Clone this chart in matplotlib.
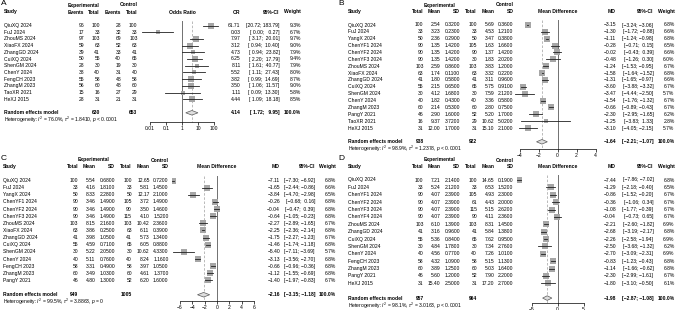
import matplotlib.pyplot as plt
import numpy as np

plt.rcParams['font.family'] = ['Liberation Sans', 'DejaVu Sans']
plt.rcParams['mathtext.fontset'] = 'custom'
plt.rcParams['mathtext.rm'] = 'Liberation Sans'
plt.rcParams['mathtext.it'] = 'Liberation Sans:italic'
plt.rcParams['mathtext.bf'] = 'Liberation Sans:bold'

FS = 3.65
W, H = 677, 310

# ---- A: odds ratio
studies_a = ["QiuXQ 2024", "FuJ 2024", "ZhouMS 2024", "XiaoFX 2024", "ZhangGD 2024",
             "CuiXQ 2024", "ShenGM 2024", "ChenY 2024", "FengCH 2023", "ZhangM 2023",
             "TaoXR 2021", "HeXJ 2015"]
ev_e_a = [96, 17, 97, 59, 39, 50, 28, 38, 55, 56, 15, 28]
n_e_a = [100, 33, 103, 63, 41, 55, 30, 40, 58, 60, 16, 31]
ev_c_a = [28, 32, 69, 52, 33, 40, 19, 31, 48, 48, 27, 21]
n_c_a = [100, 33, 103, 63, 41, 65, 30, 40, 58, 60, 29, 31]
or_a = [61.71, 0.03, 7.97, 3.12, 4.73, 6.25, 8.11, 5.52, 3.82, 3.50, 1.11, 4.44]
lo_a = [20.72, 0.0033, 3.17, 0.94, 0.94, 2.20, 1.61, 1.11, 0.99, 1.06, 0.09, 1.09]
hi_a = [183.79, 0.27, 20.01, 10.40, 23.82, 17.79, 40.77, 27.43, 14.69, 11.57, 13.30, 18.18]
w_a = [9.3, 6.7, 9.7, 9.0, 7.9, 9.4, 7.9, 8.0, 8.7, 9.0, 5.8, 8.5]
pool_a = (4.14, 1.72, 9.95)
tot_a = (630, 653)
het_a = ("76.0%", "1.8410", "< 0.0001")

# ---- B: mean difference
studies_b = ["QiuXQ 2024", "FuJ 2024", "YangX 2024", "ChenYF1 2024", "ChenYF2 2024",
             "ChenYF3 2024", "ZhouMS 2024", "XiaoFX 2024", "ZhangGD 2024", "CuiXQ 2024",
             "ShenGM 2024", "ChenY 2024", "ZhangM 2023", "PangY 2021", "TaoXR 2021", "HeXJ 2015"]
n_e_b = [100, 33, 50, 90, 90, 90, 103, 63, 41, 55, 30, 40, 60, 46, 16, 31]
m_e_b = [2.54, 3.23, 2.36, 1.35, 1.35, 1.35, 2.59, 1.74, 1.80, 2.15, 4.12, 1.82, 2.14, 2.90, 9.37, 12.00]
sd_e_b = [0.32, 0.23, 0.29, 1.42, 1.42, 1.42, 0.86, 0.11, 0.58, 0.65, 1.68, 0.43, 0.53, 1.60, 3.72, 1.70]
n_c_b = [100, 33, 50, 105, 90, 30, 103, 63, 41, 65, 30, 40, 60, 52, 29, 31]
m_c_b = [5.69, 4.53, 3.47, 1.63, 1.37, 1.83, 3.83, 3.32, 3.11, 5.75, 7.59, 3.36, 2.80, 5.20, 10.62, 15.10]
sd_c_b = [0.36, 1.21, 0.38, 1.66, 1.42, 2.02, 1.20, 0.22, 0.96, 0.91, 2.12, 0.58, 0.75, 1.70, 5.02, 2.10]
md_b = [-3.15, -1.30, -1.11, -0.28, -0.02, -0.48, -1.24, -1.58, -1.31, -3.60, -3.47, -1.54, -0.66, -2.30, -1.25, -3.10]
lo_b = [-3.24, -1.72, -1.24, -0.71, -0.43, -1.26, -1.53, -1.64, -1.65, -3.88, -4.44, -1.76, -0.89, -2.95, -3.83, -4.05]
hi_b = [-3.06, -0.88, -0.98, 0.15, 0.39, 0.30, -0.95, -1.52, -0.97, -3.32, -2.50, -1.32, -0.43, -1.65, 1.33, -2.15]
w_b = [6.8, 6.6, 6.8, 6.5, 6.6, 6.0, 6.7, 6.8, 6.6, 6.7, 5.7, 6.7, 6.7, 6.2, 2.8, 5.7]
pool_b = (-1.64, -2.21, -1.07)
tot_b = (938, 922)
het_b = ("98.9%", "1.2378", "< 0.0001")

# ---- C: mean difference
studies_c = ["QiuXQ 2024", "FuJ 2024", "YangX 2024", "ChenYF1 2024", "ChenYF2 2024",
             "ChenYF3 2024", "ZhouMS 2024", "XiaoFX 2024", "ZhangGD 2024", "CuiXQ 2024",
             "ShenGM 2024", "ChenY 2024", "FengCH 2023", "ZhangM 2023", "PangY 2021"]
n_e_c = [100, 33, 50, 90, 90, 90, 103, 63, 41, 55, 30, 40, 58, 60, 46]
m_e_c = [5.54, 4.16, 8.33, 3.46, 3.46, 3.46, 8.15, 3.86, 3.98, 4.59, 5.22, 5.11, 3.31, 3.49, 4.80]
sd_e_c = [0.68, 1.81, 2.28, 1.49, 1.49, 1.49, 2.16, 0.25, 1.05, 0.71, 2.05, 0.76, 0.49, 1.03, 1.30]
n_c_c = [100, 33, 50, 105, 90, 115, 103, 63, 41, 65, 30, 40, 58, 60, 52]
m_c_c = [12.65, 5.81, 12.17, 3.72, 3.50, 4.10, 10.42, 6.11, 5.73, 6.05, 10.62, 8.24, 3.97, 4.61, 6.20]
sd_c_c = [0.72, 1.45, 2.10, 1.49, 1.46, 1.52, 2.36, 0.39, 1.34, 0.88, 4.33, 1.16, 1.05, 1.37, 1.60]
md_c = [-7.11, -1.65, -3.84, -0.26, -0.04, -0.64, -2.27, -2.25, -1.75, -1.46, -5.40, -3.13, -0.66, -1.12, -1.40]
lo_c = [-7.30, -2.44, -4.70, -0.68, -0.47, -1.05, -2.89, -2.36, -2.27, -1.74, -7.11, -3.56, -0.96, -1.55, -1.97]
hi_c = [-6.92, -0.86, -2.98, 0.16, 0.39, -0.23, -1.65, -2.14, -1.23, -1.18, -3.69, -2.70, -0.36, -0.69, -0.83]
w_c = [6.8, 6.6, 6.5, 6.8, 6.8, 6.8, 6.7, 6.8, 6.7, 6.8, 5.7, 6.8, 6.8, 6.8, 6.7]
pool_c = (-2.16, -3.15, -1.18)
tot_c = (949, 1005)
het_c = ("99.5%", "3.8863", "= 0")

# ---- D: mean difference
studies_d = ["QiuXQ 2024", "FuJ 2024", "ChenYF1 2024", "ChenYF2 2024", "ChenYF3 2024",
             "ChenYF4 2024", "ZhouMS 2024", "ZhangGD 2024", "CuiXQ 2024", "ShenGM 2024",
             "ChenY 2024", "FengCH 2023", "ZhangM 2023", "PangY 2021", "HeXJ 2015"]
n_e_d = [100, 33, 90, 90, 90, 90, 103, 41, 55, 30, 40, 58, 60, 46, 31]
m_e_d = [7.21, 5.24, 4.07, 4.07, 4.07, 4.07, 6.10, 3.16, 5.36, 4.84, 4.56, 4.32, 3.89, 5.60, 15.40]
sd_e_d = [2.14, 2.12, 2.39, 2.39, 2.39, 2.39, 1.39, 0.96, 0.84, 1.78, 0.77, 1.09, 1.25, 1.20, 2.50]
n_c_d = [100, 33, 105, 61, 115, 90, 103, 41, 65, 30, 40, 58, 60, 52, 31]
m_c_d = [14.65, 6.53, 4.93, 4.43, 5.15, 4.11, 8.31, 5.84, 7.62, 7.34, 7.26, 5.15, 5.03, 7.90, 17.20]
sd_c_d = [0.19, 1.52, 2.30, 2.00, 2.62, 2.36, 1.45, 1.38, 0.95, 2.76, 1.01, 1.13, 1.64, 2.20, 2.70]
md_d = [-7.44, -1.29, -0.86, -0.36, -1.08, -0.04, -2.21, -2.68, -2.26, -2.50, -2.70, -0.83, -1.14, -2.30, -1.80]
lo_d = [-7.86, -2.18, -1.52, -1.06, -1.77, -0.73, -2.60, -3.19, -2.58, -3.68, -3.09, -1.23, -1.66, -2.99, -3.10]
hi_d = [-7.02, -0.40, -0.20, 0.34, -0.39, 0.65, -1.82, -2.17, -1.94, -1.32, -2.31, -0.43, -0.62, -1.61, -0.50]
w_d = [6.8, 6.5, 6.7, 6.7, 6.7, 6.7, 6.9, 6.8, 6.9, 6.2, 6.9, 6.8, 6.8, 6.7, 6.1]
pool_d = (-1.98, -2.87, -1.08)
tot_d = (957, 964)
het_d = ("98.1%", "3.0163", "< 0.0001")


fig = plt.figure(figsize=(W / 100, H / 100), dpi=100)
tax = fig.add_axes([0, 0, 1, 1])
tax.set_xlim(0, W)
tax.set_ylim(H, 0)
tax.axis('off')


def put(x, y, s, ha='right', bold=False, size=FS):
    tax.text(x, y, s, ha=ha, va='center', fontsize=size,
             fontweight='bold' if bold else 'normal')


def num(v, d=2):
    return f'{v:.{d}f}'.replace('-', '\u2212')


def ci_strings(lo, hi):
    # pad like R's format(): same number of characters per column
    ls = [num(v) for v in lo]
    hs = [num(v) for v in hi]
    nl, nh = max(map(len, ls)), max(map(len, hs))
    return ['[' + l.rjust(nl) + '; ' + h.rjust(nh) + ']' for l, h in zip(ls, hs)]


def het_text(h):
    return r'Heterogeneity: $I^2$ = ' + h[0] + r', $\tau^2$ = ' + h[1] + r', $p$ ' + h[2]


def forest(zero, ppu, half, log=False):
    # zero = pixel of the null value, ppu = pixels per unit (per decade for log)
    p0, p1 = zero - ppu * half, zero + ppu * half
    ax = fig.add_axes([p0 / W, 0, (p1 - p0) / W, 1])
    ax.set_ylim(H, 0)
    if log:
        ax.set_xscale('log')
        ax.set_xlim(10 ** -half, 10 ** half)
    else:
        ax.set_xlim(-half, half)
    ax.patch.set_visible(False)
    for s in ('top', 'left', 'right'):
        ax.spines[s].set_visible(False)
    ax.tick_params(left=False, labelleft=False)
    return ax


def draw_forest(ax, ys, est, lo, hi, w, pool, y_pool, y_top, y_axis, null, ticks, labels, smax=5.5):
    ax.plot([null, null], [y_top, y_axis], color='#707070', lw=0.7)
    ax.plot([pool[0], pool[0]], [y_top, y_axis], color='#b0b0b0', lw=0.6, ls=(0, (3, 2)))
    w = np.asarray(w, dtype=float)
    for y, e, l, h, wi in zip(ys, est, lo, hi, w):
        side = smax * np.sqrt(wi / w.max())
        ax.plot(e, y, marker='s', ms=side * 0.72, mfc='#a6a6a6', mec='#a6a6a6', mew=0, zorder=2)
        ax.plot([l, h], [y, y], color='#202020', lw=0.6, zorder=3)
    e, l, h = pool
    ax.fill([l, e, h, e], [y_pool, y_pool - 2.3, y_pool, y_pool + 2.3],
            fc='#dedede', ec='#5a5a5a', lw=0.5, zorder=3)
    sp = ax.spines['bottom']
    sp.set_position(('data', y_axis))
    sp.set_bounds(ticks[0], ticks[-1])
    sp.set_linewidth(0.5)
    ax.set_xticks(ticks)
    ax.set_xticklabels(labels)
    ax.minorticks_off()
    ax.tick_params(axis='x', length=2, width=0.5, pad=1.2, labelsize=FS)


# ================= panel A =================
ca = dict(study=4, ev_e=84, n_e=100, ev_c=121, n_c=137.5, est=240.5, ci=279.5, wt=301)
ys_a = 25.5 + 6.7 * np.arange(len(studies_a))
yp = 112.8
cis_a = ci_strings(lo_a + [pool_a[1]], hi_a + [pool_a[2]])
put(1, 3.5, 'A', ha='left', size=6)
put(ca['n_e'], 5, 'Experimental', bold=True)
put(ca['n_c'], 5, 'Control', bold=True)
put(ca['study'], 12, 'Study', ha='left', bold=True)
for k, s in [('ev_e', 'Events'), ('n_e', 'Total'), ('ev_c', 'Events'), ('n_c', 'Total'),
             ('est', 'OR'), ('ci', '95%-CI'), ('wt', 'Weight')]:
    put(ca[k], 12, s, bold=True)
put(182, 12, 'Odds Ratio', ha='center', bold=True)
for i, y in enumerate(ys_a):
    put(ca['study'], y, studies_a[i], ha='left')
    put(ca['ev_e'], y, str(ev_e_a[i]))
    put(ca['n_e'], y, str(n_e_a[i]))
    put(ca['ev_c'], y, str(ev_c_a[i]))
    put(ca['n_c'], y, str(n_c_a[i]))
    put(ca['est'], y, num(or_a[i]))
    put(ca['ci'], y, cis_a[i])
    put(ca['wt'], y, f'{w_a[i]:.1f}%')
put(ca['study'], yp, 'Random effects model', ha='left', bold=True)
put(ca['n_e'], yp, str(tot_a[0]), bold=True)
put(ca['n_c'], yp, str(tot_a[1]), bold=True)
put(ca['est'], yp, num(pool_a[0]), bold=True)
put(ca['ci'], yp, cis_a[-1], bold=True)
put(ca['wt'], yp, '100.0%', bold=True)
put(ca['study'], 119.5, het_text(het_a), ha='left')
axa = forest(182, 16, 2.57, log=True)
draw_forest(axa, ys_a, or_a, lo_a, hi_a, w_a, pool_a, yp, 21, 122, 1,
            [0.01, 0.1, 1, 10, 100], ['0.01', '0.1', '1', '10', '100'])


# ================= continuous panels =================
def md_panel(letter, lx, ly, c, studies, n_e, m_e, sd_e, n_c, m_c, sd_c, md, lo, hi, w,
             pool, tot, het, y0, dy, y_axis, zero, ppu, half, ticks):
    put(lx, ly, letter, ha='left', size=6)
    h1, h2 = ly + 1.5, ly + 8
    put(c['sd_e'] - 5, h1, 'Experimental', bold=True)
    put(c['sd_c'], h1, 'Control', bold=True)
    put(c['study'], h2, 'Study', ha='left', bold=True)
    for k, s in [('n_e', 'Total'), ('m_e', 'Mean'), ('sd_e', 'SD'), ('n_c', 'Total'),
                 ('m_c', 'Mean'), ('sd_c', 'SD'), ('est', 'MD'), ('ci', '95%-CI'), ('wt', 'Weight')]:
        put(c[k], h2, s, bold=True)
    put(zero, h2, 'Mean Difference', ha='center', bold=True)
    ys = y0 + dy * np.arange(len(studies))
    y_pool = ys[-1] + 2 * dy
    y_het = y_pool + dy
    cis = ci_strings(lo + [pool[1]], hi + [pool[2]])
    for i, y in enumerate(ys):
        put(c['study'], y, studies[i], ha='left')
        put(c['n_e'], y, str(n_e[i]))
        put(c['m_e'], y, num(m_e[i]))
        put(c['sd_e'], y, num(sd_e[i], 4))
        put(c['n_c'], y, str(n_c[i]))
        put(c['m_c'], y, num(m_c[i]))
        put(c['sd_c'], y, num(sd_c[i], 4))
        put(c['est'], y, num(md[i]))
        put(c['ci'], y, cis[i])
        put(c['wt'], y, f'{w[i]:.1f}%')
    put(c['study'], y_pool, 'Random effects model', ha='left', bold=True)
    put(c['n_e'], y_pool, str(tot[0]), bold=True)
    put(c['n_c'], y_pool, str(tot[1]), bold=True)
    put(c['est'], y_pool, num(pool[0]), bold=True)
    put(c['ci'], y_pool, cis[-1], bold=True)
    put(c['wt'], y_pool, '100.0%', bold=True)
    put(c['study'], y_het, het_text(het), ha='left')
    ax = forest(zero, ppu, half)
    draw_forest(ax, ys, md, lo, hi, w, pool, y_pool, ys[0] - 5, y_axis, 0,
                ticks, [num(t, 0) for t in ticks])


cb = dict(study=348, n_e=423.5, m_e=440.5, sd_e=460, n_c=477, m_c=494.5, sd_c=513.5,
          est=616, ci=653.5, wt=674.5)
md_panel('B', 338.5, 3.5, cb, studies_b, n_e_b, m_e_b, sd_e_b, n_c_b, m_c_b, sd_c_b,
         md_b, lo_b, hi_b, w_b, pool_b, tot_b, het_b,
         25, 6.87, 148.5, 557.5, 9.5, 4.44, [-4, -2, 0, 2, 4])

cc = dict(study=3, n_e=78.5, m_e=95.5, sd_e=115, n_c=132, m_c=149.5, sd_c=168.5,
          est=280, ci=315, wt=336)
md_panel('C', 1, 158.5, cc, studies_c, n_e_c, m_e_c, sd_e_c, n_c_c, m_c_c, sd_c_c,
         md_c, lo_c, hi_c, w_c, pool_c, tot_c, het_c,
         180.5, 7.14, 300.5, 217, 6.2, 7.30, [-6, -4, -2, 0, 2, 4, 6])

md_panel('D', 338.5, 158.5, cb, studies_d, n_e_d, m_e_d, sd_e_d, n_c_d, m_c_d, sd_c_d,
         md_d, lo_d, hi_d, w_d, pool_d, tot_d, het_d,
         180, 7.38, 302.5, 557.5, 5.2, 7.86, [-5, 0, 5])

fig.savefig('out.png', dpi=100)
